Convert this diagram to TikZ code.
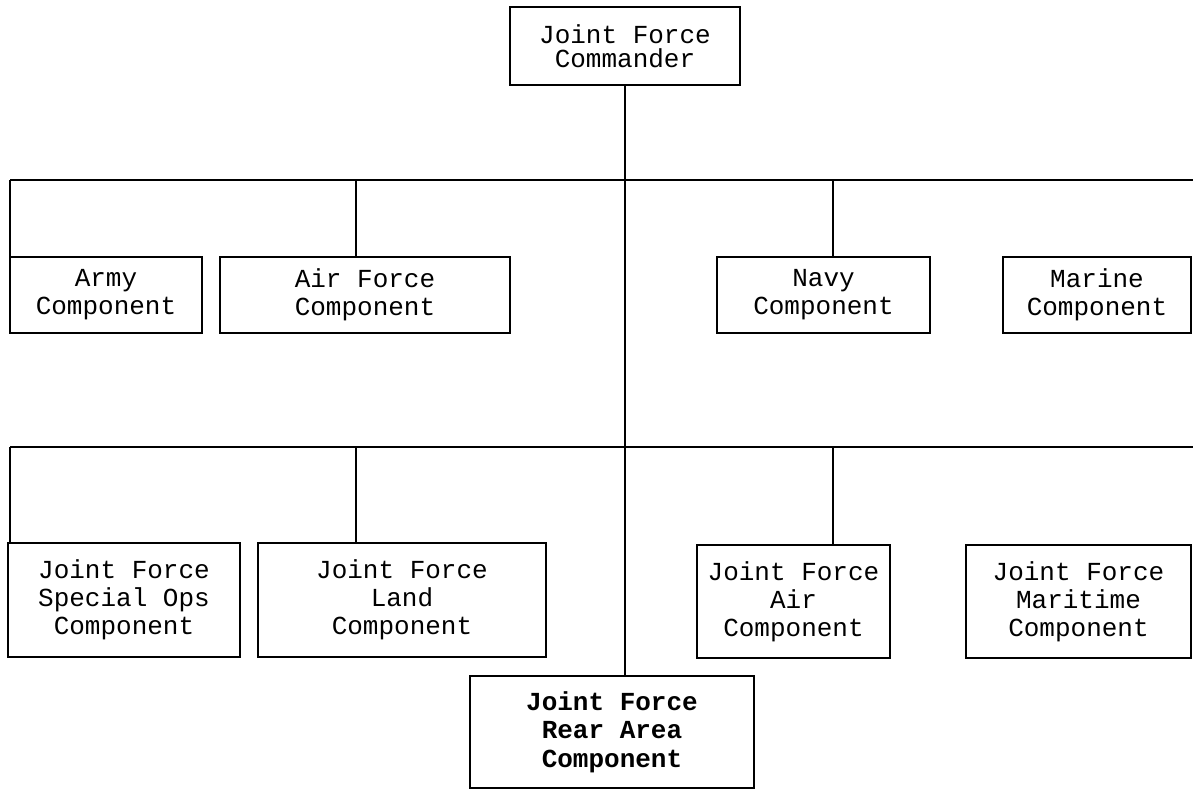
\documentclass[tikz,border=0pt]{standalone}
\usepackage{fontspec}
\setmonofont{Liberation Mono}
\def\pxu{0.75pt}

\begin{document}
\begin{tikzpicture}[x=0.75pt, y=-0.75pt]
  \tikzset{
    unit/.style={draw, line width=2.1pt, align=center, inner sep=0pt,
      font=\ttfamily\fontsize{19.5}{21}\selectfont},
    link/.style={line width=2.1pt}
  }
  \useasboundingbox (0,0) rectangle (1193,791);
    \node[unit, minimum width=230*\pxu, minimum height=78*\pxu,
      font=\ttfamily\fontsize{19.5}{18}\selectfont] (jfc) at (625,46) {Joint Force\\Commander};
    \node[unit, minimum width=192*\pxu, minimum height=76*\pxu] (army) at (106,295) {Army\\Component};
    \node[unit, minimum width=290*\pxu, minimum height=76*\pxu] (airforce) at (365,295) {Air Force\\Component};
    \node[unit, minimum width=213*\pxu, minimum height=76*\pxu] (navy) at (823.5,295) {Navy\\Component};
    \node[unit, minimum width=188*\pxu, minimum height=76*\pxu] (marine) at (1097,295) {Marine\\Component};
    \node[unit, minimum width=232*\pxu, minimum height=114*\pxu] (jfsoc) at (124,600) {Joint Force\\Special Ops\\Component};
    \node[unit, minimum width=288*\pxu, minimum height=114*\pxu] (jfland) at (402,600) {Joint Force\\Land\\Component};
    \node[unit, minimum width=193*\pxu, minimum height=113*\pxu] (jfair) at (793.5,601.5) {Joint Force\\Air\\Component};
    \node[unit, minimum width=225*\pxu, minimum height=113*\pxu] (jfmar) at (1078.5,601.5) {Joint Force\\Maritime\\Component};
    \node[unit, minimum width=284*\pxu, minimum height=112*\pxu,
      font=\ttfamily\bfseries\fontsize{19.5}{21.5}\selectfont] (rear) at (612,732) {Joint Force\\Rear Area\\Component};
    \coordinate (busa) at (10,180);
    \coordinate (busb) at (1193,180);
    \coordinate (busc) at (10,447);
    \coordinate (busd) at (1193,447);
    \coordinate (tapl) at (356,0);
    \coordinate (tapr) at (833,0);
    \draw[link] (busa) -- (busb);
    \draw[link] (busc) -- (busd);
    \draw[link] (jfc.south) -- (jfc.south |- rear.north);
    \draw[link] (busa) -- (busa |- army.north);
    \draw[link] (tapl |- busa) -- (tapl |- airforce.north);
    \draw[link] (tapr |- busa) -- (tapr |- navy.north);
    \draw[link] (busc) -- (busc |- jfsoc.north);
    \draw[link] (tapl |- busc) -- (tapl |- jfland.north);
    \draw[link] (tapr |- busc) -- (tapr |- jfair.north);
\end{tikzpicture}
\end{document}
